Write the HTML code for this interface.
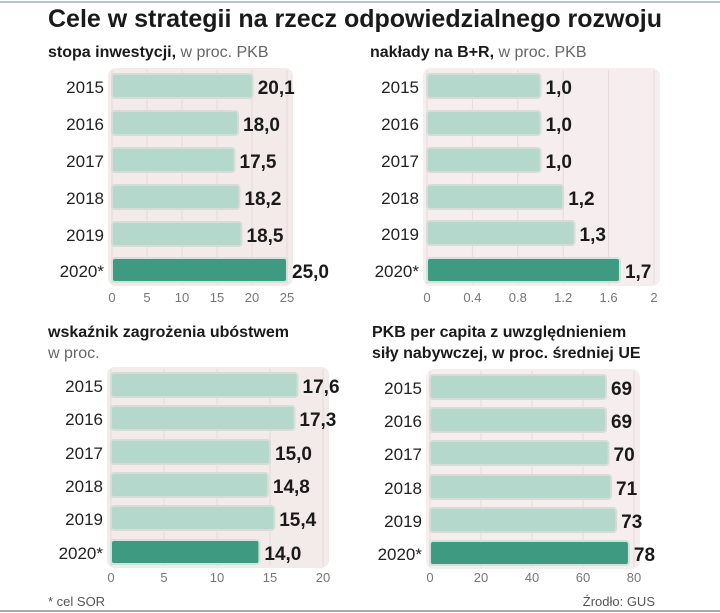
<!DOCTYPE html>
<html><head><meta charset="utf-8"><style>
body{margin:0;background:#fff;}
svg{display:block;font-family:"Liberation Sans",sans-serif;}
.yr{font-size:17px;fill:#222;text-anchor:end;}
.val{font-size:19px;font-weight:bold;fill:#1a1a1a;font-family:"Liberation Sans Narrow","Liberation Sans",sans-serif;}
.tk{font-size:13px;fill:#777;text-anchor:middle;}
.ttl{font-size:16px;font-weight:bold;fill:#1a1a1a;font-family:"Liberation Sans Narrow","Liberation Sans",sans-serif;}
.sub{font-size:16px;fill:#666;font-weight:normal;}
</style></head><body>
<svg id="c" width="720" height="613">
<line x1="0" y1="2" x2="720" y2="2" stroke="#b8c4d4" stroke-width="2"/>
<line x1="0" y1="611" x2="720" y2="611" stroke="#aaa" stroke-width="2"/>
<text x="48" y="27" style="font-size:25px;font-weight:bold;fill:#1a1a1a;font-family:'Liberation Sans Narrow','Liberation Sans',sans-serif">Cele w strategii na rzecz odpowiedzialnego rozwoju</text>
<text x="48" y="57" class="ttl">stopa inwestycji,<tspan class="sub"> w proc. PKB</tspan></text>
<text x="370" y="57" class="ttl">nakłady na B+R,<tspan class="sub"> w proc. PKB</tspan></text>
<text x="48" y="337" class="ttl">wskaźnik zagrożenia ubóstwem</text>
<text x="48" y="358" class="sub">w proc.</text>
<text x="372" y="337" class="ttl">PKB per capita z uwzględnieniem</text>
<text x="372" y="358" class="ttl">siły nabywczej, w proc. średniej UE</text>
<text x="48" y="606" style="font-size:13px;fill:#555">* cel SOR</text>
<text x="655" y="606" style="font-size:13px;fill:#555;text-anchor:end">Źrodło: GUS</text>
</svg>
<script>
const years = ["2015","2016","2017","2018","2019","2020*"];
const invest = [20.1,18.0,17.5,18.2,18.5,25.0];
const investLabels = ["20,1","18,0","17,5","18,2","18,5","25,0"];
const investTicks = ["0","5","10","15","20","25"];
const rnd = [1.0,1.0,1.0,1.2,1.3,1.7];
const rndLabels = ["1,0","1,0","1,0","1,2","1,3","1,7"];
const rndTicks = ["0","0.4","0.8","1.2","1.6","2"];
const poverty = [17.6,17.3,15.0,14.8,15.4,14.0];
const povertyLabels = ["17,6","17,3","15,0","14,8","15,4","14,0"];
const povertyTicks = ["0","5","10","15","20"];
const gdp = [69,69,70,71,73,78];
const gdpLabels = ["69","69","70","71","73","78"];
const gdpTicks = ["0","20","40","60","80"];

const svg=document.getElementById('c');
const NS="http://www.w3.org/2000/svg";
function el(t,a,txt){const e=document.createElementNS(NS,t);for(const k in a)e.setAttribute(k,a[k]);if(txt!==undefined)e.textContent=txt;svg.appendChild(e);return e;}

function panel(id,vals,labels,ticks,max,x0,x1,cy,tickY,bg){
  const sx=v=>x0+(v/max)*(x1-x0);
  const b=el('rect',{x:x0-4,y:cy[0]-18,width:x1-x0+10,height:cy[5]-cy[0]+34,rx:8,fill:bg});
  
  
  ticks.forEach((t,i)=>{
    const v=max*i/(ticks.length-1);
    const g=el('line',{x1:sx(v),x2:sx(v),y1:cy[0]-16,y2:cy[5]+14,stroke:'#e6dada','stroke-width':1});
    
    
    const tl=el('text',{x:sx(v),y:tickY,class:'tk'},t);
    
    
  });
  vals.forEach((v,i)=>{
    const last=i===vals.length-1;
    const r=el('rect',{x:x0,y:cy[i]-12,width:sx(v)-x0,height:24,rx:3,fill:last?'#3f9a82':'#b4d8cb',stroke:last?'#cfe3dc':'#d8dcd9','stroke-width':2});
    
    
    const y=el('text',{x:x0-8,y:cy[i]+7,class:'yr'},years[i]);
    
    
    const l=el('text',{x:sx(v)+5,y:cy[i]+8,class:'val'},labels[i]);
    
    
  });
}
panel('investment',invest,investLabels,investTicks,25,112,287,[86,123,160,197,234,270],302,'#f3eaea');
panel('rnd',rnd,rndLabels,rndTicks,2,427,654,[86,123,160,197,233,270],302,'#f6eeee');
panel('poverty',poverty,povertyLabels,povertyTicks,20,111,323,[385,418,452,485,518,552],582,'#f3eaea');
panel('gdp',gdp,gdpLabels,gdpTicks,80,430,634,[387,420,453,487,520,553],582,'#f6eeee');
</script>
</body></html>
